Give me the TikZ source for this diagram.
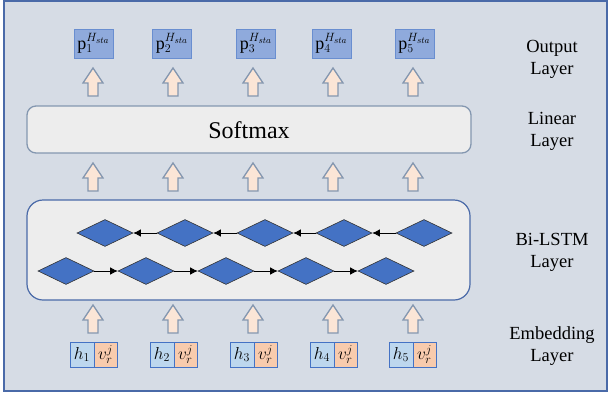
\documentclass[tikz,border=0pt]{standalone}
\usepackage{fontspec}
\setmainfont{Liberation Serif}
\usetikzlibrary{shapes.geometric,arrows.meta}

\definecolor{fond}{HTML}{D6DCE5}
\definecolor{cadre}{HTML}{4A6AA8}
\definecolor{gris}{HTML}{EDEDED}
\definecolor{trait}{HTML}{8497B0}
\definecolor{peche}{HTML}{FBE5D6}
\definecolor{losange}{HTML}{4472C4}
\definecolor{sortie}{HTML}{8FAADC}
\definecolor{bleuclair}{HTML}{BDD7EE}
\definecolor{orange}{HTML}{F8CBAD}

\tikzstyle{couche} = [align=center, font=\fontsize{18.5}{22}\selectfont]
\tikzstyle{sortiebox} = [rectangle, draw=losange!80, line width=0.8pt, fill=sortie, minimum width=39pt, minimum height=29pt, inner sep=0pt, font=\fontsize{18}{18}\selectfont]
\tikzstyle{cellh} = [rectangle, draw=losange, line width=0.8pt, fill=bleuclair, minimum width=24pt, minimum height=25pt, inner sep=0pt, font=\fontsize{18.5}{18.5}\selectfont]
\tikzstyle{cellv} = [rectangle, draw=losange, line width=0.8pt, fill=orange, minimum width=23pt, minimum height=25pt, inner sep=0pt, font=\fontsize{18.5}{18.5}\selectfont]
\tikzstyle{cellule} = [diamond, draw=black!80, line width=0.6pt, fill=losange, minimum width=56pt, minimum height=27pt, inner sep=0pt, aspect=2.1]
\tikzstyle{lien} = [draw, black, line width=0.8pt, -{Latex[length=7.5pt,width=7.5pt]}]
\tikzstyle{flechebloc} = [draw=trait, line width=1.3pt, fill=peche, line join=miter]

% fleche epaisse vers le haut, #1 = x du centre, #2 = y du bas
\newcommand{\blocup}[2]{\draw[flechebloc] (#1-5,#2) -- (#1+5,#2) -- (#1+5,#2-13) -- (#1+10,#2-13) -- (#1,#2-28) -- (#1-10,#2-13) -- (#1-5,#2-13) -- cycle;}

\begin{document}
\begin{tikzpicture}[x=1pt, y=-1pt]

    \useasboundingbox (0,0) rectangle (610,397);
    \fill[white] (0,0) rectangle (610,397);
    \draw[cadre, line width=1.2pt, fill=fond] (4,1) rectangle (607,391);

    %  couches
    \node[couche] (LO) at (552,59) {Output\\Layer};
    \node[couche] (LL) at (552,131.5) {Linear\\Layer};
    \node[couche] (LB) at (552,252) {Bi-LSTM\\Layer};
    \node[couche] (LE) at (552,346.5) {Embedding\\Layer};

   %-------------------------------------------------------------
    \node[sortiebox] (p1) at (93.5,43.5) {$\mathrm{p}_1^{H_{sta}}$};
    \node[sortiebox] (p2) at (172,43.5) {$\mathrm{p}_2^{H_{sta}}$};
    \node[sortiebox] (p3) at (256,43.5) {$\mathrm{p}_3^{H_{sta}}$};
    \node[sortiebox] (p4) at (331.5,43.5) {$\mathrm{p}_4^{H_{sta}}$};
    \node[sortiebox] (p5) at (414.5,43.5) {$\mathrm{p}_5^{H_{sta}}$};

    \foreach \x in {93,173,253,333,413} {\blocup{\x}{96}}

   %-------------------------------------------------------------
    \draw[draw=trait, line width=1.3pt, fill=gris, rounded corners=9pt] (27,106) rectangle (471,153);
    \node[font=\fontsize{24}{24}\selectfont] (S) at (249,130) {Softmax};

    \foreach \x in {93,173,253,333,413} {\blocup{\x}{191}}

   %-------------------------------------------------------------
    \draw[draw=cadre, line width=1.2pt, fill=gris, rounded corners=16pt] (27,200) rectangle (470,300);

    \node[cellule] (t1) at (105,233) {};
    \node[cellule] (t2) at (185,233) {};
    \node[cellule] (t3) at (265,233) {};
    \node[cellule] (t4) at (344,233) {};
    \node[cellule] (t5) at (424,233) {};

    \node[cellule] (b1) at (66,271) {};
    \node[cellule] (b2) at (146,271) {};
    \node[cellule] (b3) at (226,271) {};
    \node[cellule] (b4) at (306,271) {};
    \node[cellule] (b5) at (386,271) {};

    \draw[lien] (t2.west) -- (t1.east);
    \draw[lien] (t3.west) -- (t2.east);
    \draw[lien] (t4.west) -- (t3.east);
    \draw[lien] (t5.west) -- (t4.east);

    \draw[lien] (b1.east) -- (b2.west);
    \draw[lien] (b2.east) -- (b3.west);
    \draw[lien] (b3.east) -- (b4.west);
    \draw[lien] (b4.east) -- (b5.west);

    \foreach \x in {93,173,253,333,413} {\blocup{\x}{333}}

  %---------------------------------------------------------
    \node[cellh] (h1) at (82,354.5) {$h_1$};
    \node[cellv] (v1) at (105.5,354.5) {$v_r^j$};
    \node[cellh] (h2) at (162,354.5) {$h_2$};
    \node[cellv] (v2) at (185.5,354.5) {$v_r^j$};
    \node[cellh] (h3) at (242,354.5) {$h_3$};
    \node[cellv] (v3) at (265.5,354.5) {$v_r^j$};
    \node[cellh] (h4) at (322,354.5) {$h_4$};
    \node[cellv] (v4) at (345.5,354.5) {$v_r^j$};
    \node[cellh] (h5) at (401,354.5) {$h_5$};
    \node[cellv] (v5) at (424.5,354.5) {$v_r^j$};

  \end{tikzpicture}
\end{document}
